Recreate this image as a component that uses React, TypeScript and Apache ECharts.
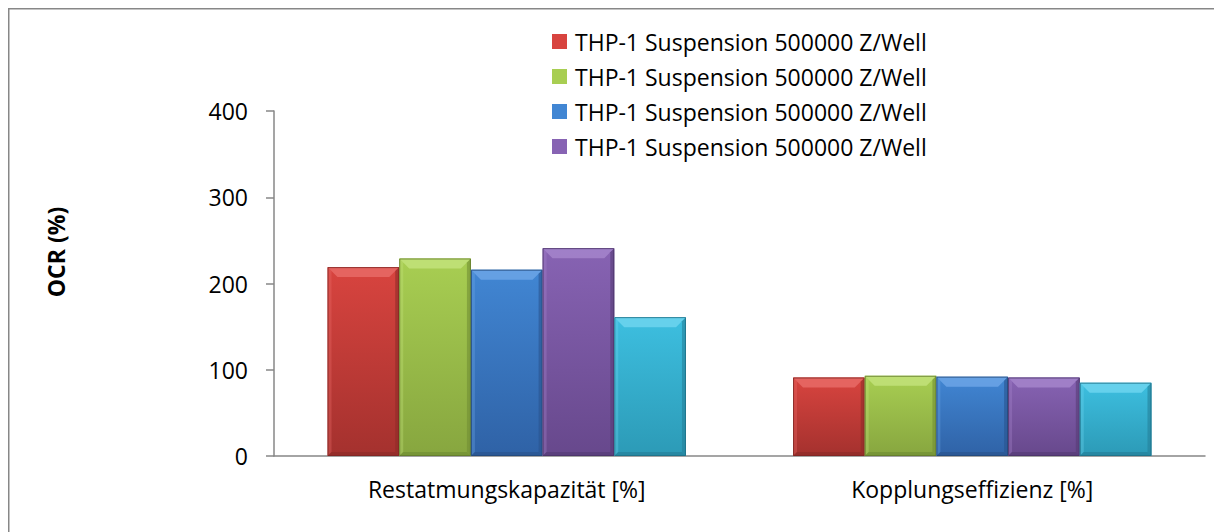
import React, { useEffect, useRef } from "react";
import * as echarts from "echarts";

const categories = ["Restatmungskapazität [%]", "Kopplungseffizienz [%]"];
const seriesIds = ["s1", "s2", "s3", "s4", "s5"];
const seriesLabels = [
  "THP-1 Suspension 500000 Z/Well",
  "THP-1 Suspension 500000 Z/Well",
  "THP-1 Suspension 500000 Z/Well",
  "THP-1 Suspension 500000 Z/Well",
  "THP-1 Suspension 500000 Z/Well",
];
const values1 = [219, 91];
const values2 = [229, 93];
const values3 = [216, 92];
const values4 = [241, 91];
const values5 = [161, 85];
const allValues = [values1, values2, values3, values4, values5];
const yTicks = [0, 100, 200, 300, 400];
const legendShown = ["s1", "s2", "s3", "s4"];

const palette = [
  { light: "#E86A66", top: "#D8443F", bottom: "#A4312E", dark: "#8E2B28", border: "#7E2623" },
  { light: "#C2E27A", top: "#A8CE52", bottom: "#87A63F", dark: "#718E33", border: "#62792C" },
  { light: "#6CA5E6", top: "#4186D3", bottom: "#2F62A6", dark: "#29548E", border: "#234878" },
  { light: "#A585CB", top: "#8763B3", bottom: "#67488C", dark: "#563C76", border: "#4A3366" },
  { light: "#6DD5EE", top: "#3DBFE0", bottom: "#2C9AB6", dark: "#24809A", border: "#1F6F86" },
];

const FONT = "'Open Sans', 'DejaVu Sans', sans-serif";
const GROUP_RATIO = 0.77;

function makeRenderItem(sIdx: number) {
  const p = palette[sIdx];
  const n = allValues.length;
  return (params: any, api: any) => {
    const cat = api.value(0);
    const val = api.value(1);
    const base = api.coord([cat, 0]);
    const topPt = api.coord([cat, val]);
    const band = api.size([1, 0])[0];
    const groupW = band * GROUP_RATIO;
    const bw = groupW / n;
    const x0 = base[0] - groupW / 2 + sIdx * bw;
    const x1 = x0 + bw;
    const y0 = topPt[1];
    const y1 = base[1];
    const h = y1 - y0;
    const bt = Math.min(10, h / 3);
    const bs = 4;
    return {
      type: "group",
      children: [
        {
          type: "rect",
          shape: { x: x0, y: y0, width: bw, height: h },
          style: {
            fill: new echarts.graphic.LinearGradient(0, 0, 0, 1, [
              { offset: 0, color: p.top },
              { offset: 1, color: p.bottom },
            ]),
          },
        },
        {
          type: "polygon",
          shape: { points: [[x0, y0], [x1, y0], [x1 - bt, y0 + bt], [x0 + bt, y0 + bt]] },
          style: { fill: p.light, opacity: 0.85 },
        },
        {
          type: "polygon",
          shape: { points: [[x0, y0], [x0 + bs, y0 + bs], [x0 + bs, y1 - bs], [x0, y1]] },
          style: { fill: p.light, opacity: 0.35 },
        },
        {
          type: "polygon",
          shape: { points: [[x1, y0], [x1 - bs, y0 + bs], [x1 - bs, y1 - bs], [x1, y1]] },
          style: { fill: p.dark, opacity: 0.6 },
        },
        {
          type: "polygon",
          shape: { points: [[x0, y1], [x1, y1], [x1 - bs, y1 - bs], [x0 + bs, y1 - bs]] },
          style: { fill: p.dark, opacity: 0.7 },
        },
        {
          type: "rect",
          shape: { x: x0 + 0.5, y: y0 + 0.5, width: bw - 1, height: h - 1 },
          style: { fill: "none", stroke: p.border, lineWidth: 1, opacity: 0.8 },
        },
      ],
    };
  };
}

export default function App() {
  const ref = useRef<HTMLDivElement>(null);
  useEffect(() => {
    document.documentElement.style.overflow = "hidden";
    document.body.style.overflow = "hidden";
    if (!ref.current) return;
    const chart = echarts.init(ref.current, undefined, { renderer: "svg" });
    chart.setOption({
      animation: false,
      backgroundColor: "#ffffff",
      textStyle: { fontFamily: FONT },
      grid: { left: 266, right: 9, top: 103, bottom: 76, containLabel: false },
      legend: {
        data: legendShown,
        orient: "vertical",
        left: 544,
        top: 22,
        padding: 0,
        itemWidth: 15,
        itemHeight: 15,
        itemGap: 12,
        icon: "rect",
        formatter: (name: string) => seriesLabels[seriesIds.indexOf(name)],
        textStyle: { fontSize: 23, color: "#000", fontFamily: FONT, padding: [0, 0, 0, 3] },
        selectedMode: false,
      },
      xAxis: {
        type: "category",
        data: categories,
        axisLine: { show: true, lineStyle: { color: "#878787", width: 1.5 } },
        axisTick: { show: false },
        axisLabel: { color: "#000", fontSize: 23, fontFamily: FONT, margin: 21 },
        splitLine: { show: false },
      },
      yAxis: {
        type: "value",
        min: yTicks[0],
        max: yTicks[yTicks.length - 1],
        interval: 100,
        axisLine: { show: true, lineStyle: { color: "#878787", width: 1.5 } },
        axisTick: { show: true, inside: false, length: 8, lineStyle: { color: "#878787", width: 1.5 } },
        axisLabel: { color: "#000", fontSize: 23, fontFamily: FONT, margin: 26 },
        splitLine: { show: false },
      },
      series: allValues.map((vals, i) => ({
        id: seriesIds[i],
        name: seriesIds[i],
        type: "custom",
        data: vals.map((v, c) => [c, v]),
        encode: { x: 0, y: 1 },
        itemStyle: { color: palette[i].top },
        renderItem: makeRenderItem(i),
        emphasis: { disabled: true },
        silent: true,
      })),
      graphic: [
        {
          type: "line",
          shape: { x1: 0.75, y1: 0, x2: 0.75, y2: 524 },
          style: { stroke: "#878787", lineWidth: 1.5 },
        },
        {
          type: "line",
          shape: { x1: 0, y1: 0.75, x2: 1206, y2: 0.75 },
          style: { stroke: "#878787", lineWidth: 1.5 },
        },
        {
          type: "text",
          x: 48,
          y: 244,
          rotation: Math.PI / 2,
          style: {
            text: "OCR (%)",
            font: `bold 23px ${FONT}`,
            fill: "#000",
            textAlign: "center",
            textVerticalAlign: "middle",
          },
        },
      ],
    });
    return () => chart.dispose();
  }, []);
  return (
    <div
      ref={ref}
      style={{ position: "fixed", left: 8, top: 8, width: 1206, height: 524 }}
    />
  );
}
